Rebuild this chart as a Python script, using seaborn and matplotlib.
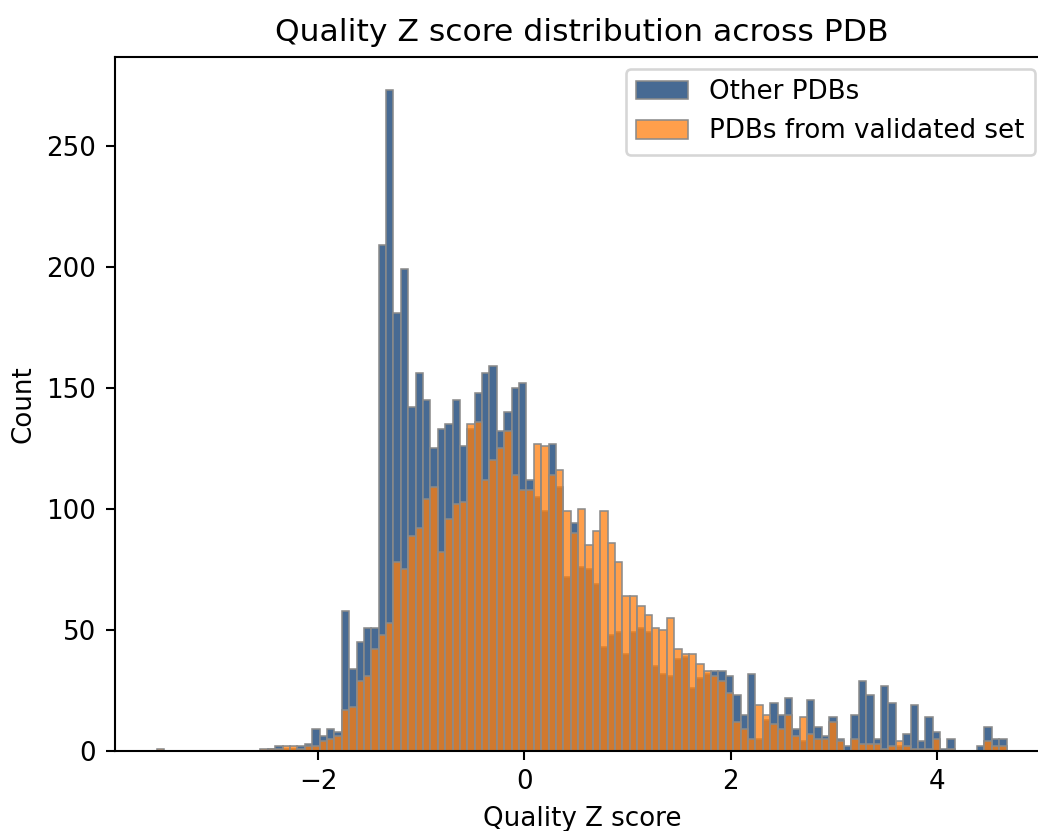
import numpy as np
import pandas as pd
import matplotlib
matplotlib.use("Agg")
import matplotlib.pyplot as plt
import seaborn as sns

# ---- data: counts per bin (115 bins spanning the observed z-score range) ----
z_min, z_max, n_bins = -3.56, 4.673, 115

other_counts = [
    0, 0, 0, 0, 0, 0, 0, 0, 0, 0,          # 0-9
    0, 0, 0, 0, 0, 1, 2, 1, 1, 2,          # 10-19
    3, 9, 6, 9, 8, 58, 34, 45, 51, 51,     # 20-29
    209, 273, 181, 199, 142, 156, 145, 125, 133, 135,   # 30-39
    145, 126, 133, 148, 156, 159, 132, 140, 150, 152,   # 40-49
    112, 105, 99, 127, 109, 72, 94, 76, 75, 69,         # 50-59
    43, 48, 49, 40, 49, 51, 49, 35, 32, 31,             # 60-69
    38, 39, 26, 30, 32, 33, 33, 31, 23, 15,             # 70-79
    32, 5, 13, 20, 15, 22, 9, 4, 21, 10,                # 80-89
    6, 14, 5, 2, 15, 29, 23, 5, 27, 20,                 # 90-99
    2, 7, 19, 4, 14, 8, 1, 5, 0, 0,                     # 100-109
    0, 2, 10, 5, 5,                                     # 110-114
]
validated_counts = [
    1, 0, 0, 0, 0, 0, 0, 0, 0, 0,
    0, 0, 0, 0, 1, 1, 1, 2, 2, 1,
    2, 2, 4, 5, 6, 17, 18, 29, 31, 42,
    48, 53, 78, 75, 89, 92, 104, 109, 82, 96,
    102, 103, 135, 136, 112, 120, 125, 132, 114, 108,
    108, 127, 126, 114, 116, 99, 90, 100, 85, 91,
    99, 86, 78, 64, 64, 60, 56, 51, 50, 55,
    42, 40, 40, 36, 33, 31, 29, 24, 12, 9,
    5, 19, 15, 11, 9, 15, 6, 14, 7, 5,
    5, 12, 4, 0, 5, 3, 3, 3, 1, 2,
    4, 2, 1, 1, 1, 5, 0, 1, 0, 0,
    0, 0, 4, 2, 2,
]

series_labels = ["Other PDBs", "PDBs from validated set"]
series_colors = ["#476a93", "#ff7f0e"]

bin_edges = np.linspace(z_min, z_max, n_bins + 1)
bin_centers = 0.5 * (bin_edges[:-1] + bin_edges[1:])

df_other = pd.DataFrame({"z": bin_centers, "n": np.array(other_counts, float)})
df_valid = pd.DataFrame({"z": bin_centers, "n": np.array(validated_counts, float)})

# ---- figure ----
W, H, DPI = 1038, 831, 188
fig = plt.figure(figsize=(W / DPI, H / DPI), dpi=DPI)
ax = fig.add_axes([114.6 / W, (H - 751) / H, (1049 - 114.6) / W, (751 - 57) / H])

sns.histplot(data=df_other, x="z", weights="n", bins=list(bin_edges), ax=ax,
             color=series_colors[0], alpha=1.0, edgecolor="#8a8a8a",
             linewidth=0.6, label=series_labels[0])
sns.histplot(data=df_valid, x="z", weights="n", bins=list(bin_edges), ax=ax,
             color=series_colors[1], alpha=0.75, edgecolor="#8a8a8a",
             linewidth=0.6, label=series_labels[1])

ax.set_title("Quality Z score distribution across PDB", fontsize=12)
ax.set_xlabel("Quality Z score")
ax.set_ylabel("Count")
ax.set_xticks([-2, 0, 2, 4])
ax.set_yticks([0, 50, 100, 150, 200, 250])

ax.legend(loc="upper right", bbox_to_anchor=(1035 / W, (H - 69) / H),
          bbox_transform=fig.transFigure, borderaxespad=0)

fig.savefig("out.png", dpi=DPI)
